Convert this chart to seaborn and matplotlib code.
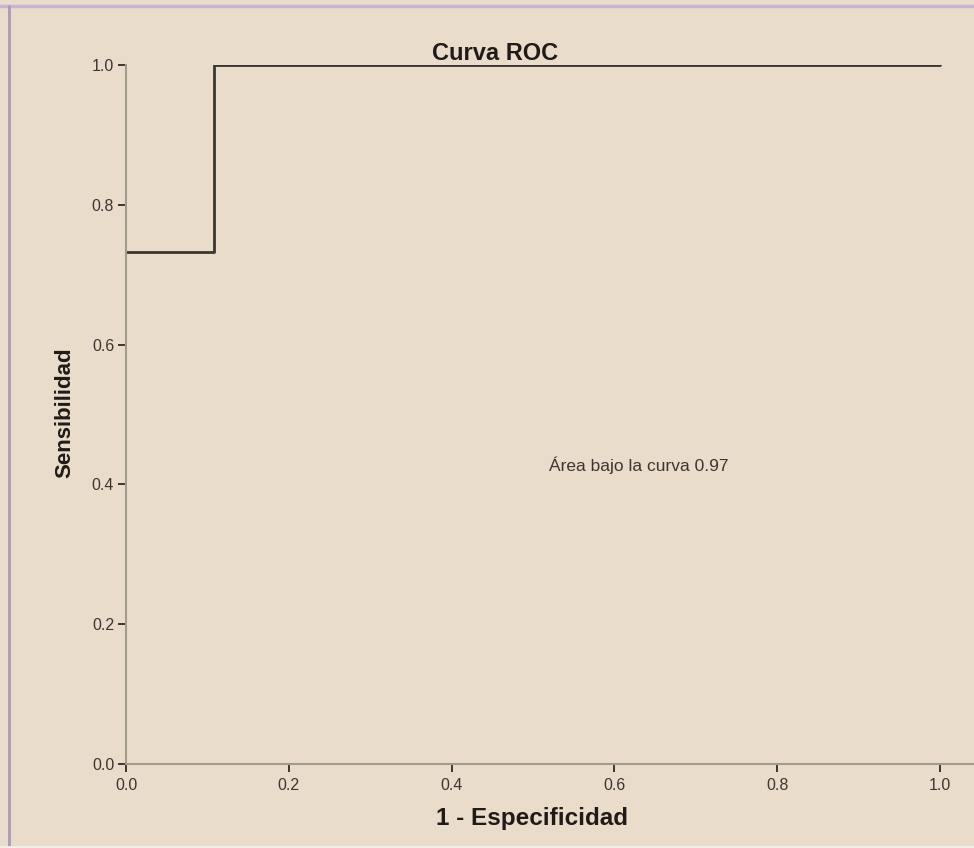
import pandas as pd
import seaborn as sns
import matplotlib.pyplot as plt
from matplotlib.lines import Line2D

# ROC curve points (1 - specificity, sensitivity)
fpr = [0.0, 0.108, 1.0]
tpr = [0.733, 1.0, 1.0]
auc_label = 'Área bajo la curva 0.97'
ticks = [0.0, 0.2, 0.4, 0.6, 0.8, 1.0]
tick_labels = ['0.0', '0.2', '0.4', '0.6', '0.8', '1.0']

BG = '#E9DCCA'
INK = '#3b3631'

sns.set_theme(style='ticks')
plt.rcParams['font.family'] = ['Liberation Sans', 'DejaVu Sans']

fig = plt.figure(figsize=(9.74, 8.48), dpi=100, facecolor=BG)
ax = fig.add_axes([126 / 974, 1 - 764 / 848, 848 / 974, 699 / 848])
ax.set_facecolor(BG)

df = pd.DataFrame({'fpr': fpr, 'tpr': tpr})
sns.lineplot(data=df, x='fpr', y='tpr', estimator=None, drawstyle='steps-post',
             color=INK, linewidth=2, ax=ax)

ax.set_xlim(0, 848 / 814)
ax.set_ylim(0, 1.0)
ax.set_xticks(ticks)
ax.set_yticks(ticks)
ax.set_xticklabels(tick_labels)
ax.set_yticklabels(tick_labels)
ax.tick_params(axis='both', direction='out', length=6, width=1.4, color=INK,
               labelsize=11.5, labelcolor=INK)
ax.tick_params(axis='x', pad=4)
ax.tick_params(axis='y', pad=2.5)
for side in ['top', 'right']:
    ax.spines[side].set_visible(False)
for side in ['left', 'bottom']:
    ax.spines[side].set_color('#a39a8e')
    ax.spines[side].set_linewidth(1.5)

ax.set_xlabel('')
ax.set_ylabel('')
fig.text(532 / 974, 1 - 818 / 848, '1 - Especificidad', ha='center', va='center',
         fontsize=17.5, fontweight='bold', color='#1e1b18')
fig.text(65 / 974, 1 - 413 / 848, 'Sensibilidad', ha='center', va='center',
         rotation=90, fontsize=16, fontweight='bold', color='#1e1b18')
fig.text(495 / 974, 1 - 53 / 848, 'Curva ROC', ha='center', va='center',
         fontsize=17, fontweight='bold', color='#1e1b18')
ax.text(0.52, 0.428, auc_label, ha='left', va='center', fontsize=12.5, color=INK)

# thin frame lines at the top and left edge of the screenshot
fig.add_artist(Line2D([0, 1], [1 - 6 / 848, 1 - 6 / 848], transform=fig.transFigure,
                      color='#c9b3d6', linewidth=2.5))
fig.add_artist(Line2D([9 / 974, 9 / 974], [0, 1 - 6 / 848], transform=fig.transFigure,
                      color='#a99cb5', linewidth=2))
fig.add_artist(Line2D([0, 1], [1 / 848, 1 / 848], transform=fig.transFigure,
                      color='#f4f0ea', linewidth=2))

fig.savefig('out.png', dpi=100, facecolor=BG)
